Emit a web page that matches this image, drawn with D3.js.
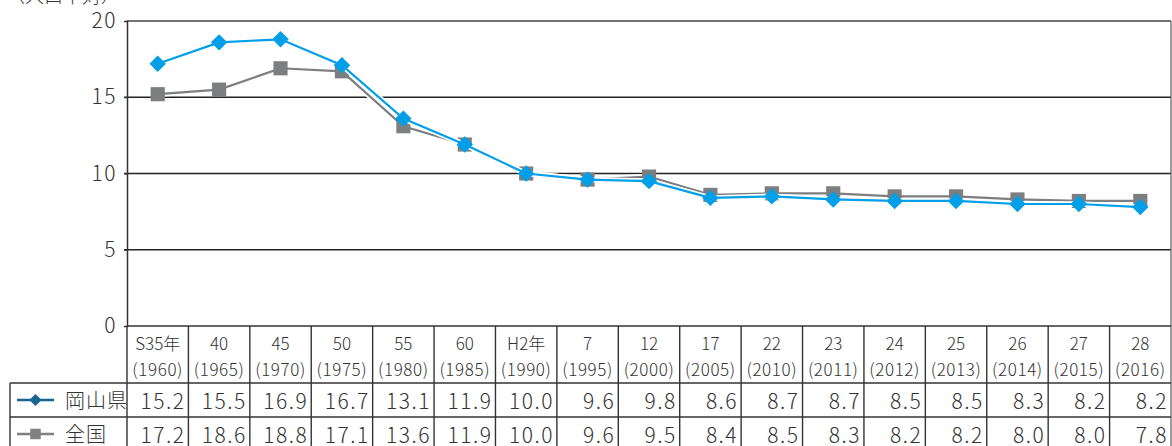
<!DOCTYPE html>
<html lang="ja">
<head>
<meta charset="utf-8">
<script src="https://cdn.jsdelivr.net/npm/d3@7"></script>
<style>
  html, body { margin: 0; padding: 0; background: #fff; }
  svg { display: block; font-family: "Noto Sans CJK JP", "Noto Sans", sans-serif; }
</style>
</head>
<body>
<svg id="chart" width="1172" height="446"></svg>
<script>
// 出生率の推移（人口千対）
const eraLabels  = ["S35年","40","45","50","55","60","H2年","7","12","17","22","23","24","25","26","27","28"];
const yearLabels = ["(1960)","(1965)","(1970)","(1975)","(1980)","(1985)","(1990)","(1995)","(2000)","(2005)","(2010)","(2011)","(2012)","(2013)","(2014)","(2015)","(2016)"];
const okayama  = [15.2,15.5,16.9,16.7,13.1,11.9,10.0,9.6,9.8,8.6,8.7,8.7,8.5,8.5,8.3,8.2,8.2];
const national = [17.2,18.6,18.8,17.1,13.6,11.9,10.0,9.6,9.5,8.4,8.5,8.3,8.2,8.2,8.0,8.0,7.8];
const yTicks = [0,5,10,15,20];
const unitLabel = "（人口千対）";

const svg = d3.select("#chart");
const plotLeft = 127, plotRight = 1171, plotTop = 21, plotBottom = 326;
const headerBottom = 383, row1Bottom = 417, row2Bottom = 451, tableLeft = 10;

const x = d3.scaleBand().domain(d3.range(eraLabels.length)).range([plotLeft, plotRight]).padding(0);
const cx = i => x(i) + x.bandwidth() / 2;
const y = d3.scaleLinear().domain([0, 20]).range([plotBottom, plotTop]);

// unit label (top-left)
svg.append("text").attr("x", 6).attr("y", 3).attr("font-size", 19).attr("fill", "#333")
  .attr("font-weight", 300).text(unitLabel);

// gridlines
svg.append("g").selectAll("line").data(yTicks.filter(v => v > 0 && v < 20)).join("line")
  .attr("x1", plotLeft - 3).attr("x2", plotRight).attr("y1", d => y(d)).attr("y2", d => y(d))
  .attr("stroke", "#222").attr("stroke-width", 1.3);
// frame top and right
svg.append("line").attr("x1", plotLeft).attr("x2", plotRight).attr("y1", y(20)).attr("y2", y(20))
  .attr("stroke", "#444").attr("stroke-width", 1.5);
svg.append("line").attr("x1", plotRight).attr("x2", plotRight).attr("y1", plotTop).attr("y2", 446)
  .attr("stroke", "#666").attr("stroke-width", 1.3);

// y axis
const yAxis = d3.axisLeft(y).tickValues(yTicks).tickSize(3).tickPadding(7).tickFormat(d3.format("d"));
const ya = svg.append("g").attr("transform", `translate(${plotLeft},0)`).call(yAxis);
ya.select(".domain").attr("stroke", "#333").attr("stroke-width", 1.5);
ya.selectAll(".tick line").attr("stroke", "#333");
ya.selectAll(".tick text").attr("font-size", 21).attr("fill", "#333").attr("font-weight", 300)
  .attr("letter-spacing", 1.5).attr("font-family", "'Noto Sans CJK JP', sans-serif");

// series lines with white halo
const line = d3.line().x((d, i) => cx(i)).y(d => y(d));
function drawSeries(values, color, isDiamond, size) {
  const g = svg.append("g");
  g.append("path").attr("d", line(values)).attr("fill", "none").attr("stroke", "#fff").attr("stroke-width", 5.5);
  g.append("path").attr("d", line(values)).attr("fill", "none").attr("stroke", color).attr("stroke-width", 2.2);
  g.selectAll("path.m").data(values).join("path").attr("class", "m")
    .attr("d", d3.symbol().type(d3.symbolSquare).size(size)())
    .attr("transform", (d, i) => `translate(${cx(i)},${y(d)})` + (isDiamond ? " rotate(45)" : ""))
    .attr("fill", color);
}
drawSeries(okayama, "#7d7e80", false, 200);
drawSeries(national, "#009fe8", true, 135);

// table grid
const tg = svg.append("g").attr("stroke", "#333").attr("stroke-width", 1.4);
tg.append("line").attr("x1", plotLeft).attr("x2", plotRight).attr("y1", plotBottom).attr("y2", plotBottom);
[headerBottom, row1Bottom].forEach(yy =>
  tg.append("line").attr("x1", tableLeft).attr("x2", plotRight).attr("y1", yy).attr("y2", yy));
tg.append("line").attr("x1", tableLeft).attr("x2", tableLeft).attr("y1", headerBottom).attr("y2", 446);
tg.selectAll("line.v").data(d3.range(eraLabels.length)).join("line").attr("class", "v")
  .attr("x1", i => x(i)).attr("x2", i => x(i)).attr("y1", plotBottom).attr("y2", 446);

// header labels
const hdr = svg.append("g").attr("font-size", 17).attr("fill", "#333").attr("text-anchor", "middle")
  .attr("font-weight", 300);
hdr.selectAll("text.era").data(eraLabels).join("text").attr("class", "era")
  .attr("x", (d, i) => cx(i)).attr("y", 350).text(d => d);
hdr.selectAll("text.yr").data(yearLabels).join("text").attr("class", "yr")
  .attr("x", (d, i) => cx(i)).attr("y", 376).attr("letter-spacing", 0.6).text(d => d);

// data rows
const rows = [
  { name: "岡山県", values: okayama, color: "#1a6491", diamond: true, yTop: headerBottom },
  { name: "全国", values: national, color: "#808080", diamond: false, yTop: row1Bottom }
];
rows.forEach(r => {
  const g = svg.append("g");
  const my = r.yTop + 17;
  g.append("line").attr("x1", 17).attr("x2", 54).attr("y1", my).attr("y2", my)
    .attr("stroke", r.color).attr("stroke-width", 2.5);
  g.append("path").attr("d", d3.symbol().type(d3.symbolSquare).size(r.diamond ? 75 : 110)())
    .attr("transform", `translate(35.5,${my})` + (r.diamond ? " rotate(45)" : ""))
    .attr("fill", r.color);
  g.append("text").attr("x", 65).attr("y", r.yTop + 25).attr("font-size", 20).attr("fill", "#333")
    .attr("font-weight", 300).attr("letter-spacing", 1).text(r.name);
  g.selectAll("text.v").data(r.values).join("text").attr("class", "v")
    .attr("x", (d, i) => x(i) + x.bandwidth() - 3).attr("y", r.yTop + 26)
    .attr("text-anchor", "end").attr("font-size", 21).attr("fill", "#333").attr("font-weight", 300)
    .attr("letter-spacing", 1.5).text(d => d3.format(".1f")(d));
});
</script>
</body>
</html>
